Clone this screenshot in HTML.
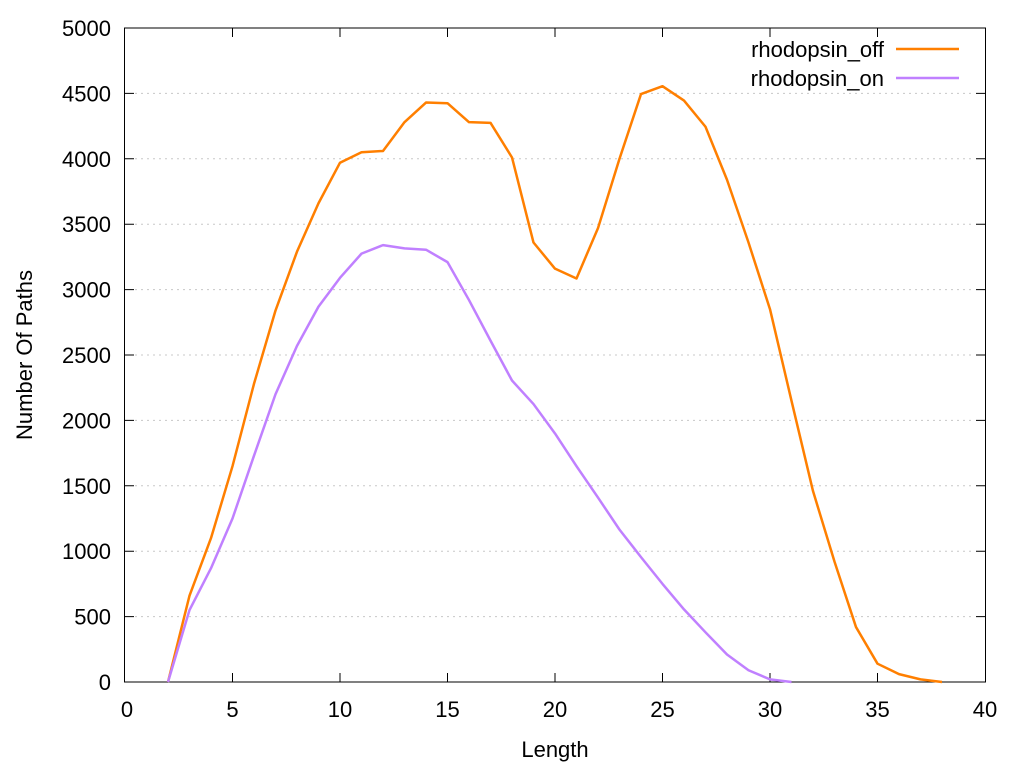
<!DOCTYPE html>
<html><head><style>
body{margin:0;background:#fff;}
svg text{font-family:"Liberation Sans",sans-serif;font-size:22px;fill:#000;}
</style></head><body>
<svg width="1024" height="768" xmlns="http://www.w3.org/2000/svg">
<rect width="1024" height="768" fill="#fff"/>
<g stroke="#c8c8c8" stroke-width="1" stroke-dasharray="2,4">
<line x1="135" x2="975" y1="616.6" y2="616.6"/>
<line x1="135" x2="975" y1="551.2" y2="551.2"/>
<line x1="135" x2="975" y1="485.8" y2="485.8"/>
<line x1="135" x2="975" y1="420.4" y2="420.4"/>
<line x1="135" x2="975" y1="355" y2="355"/>
<line x1="135" x2="975" y1="289.6" y2="289.6"/>
<line x1="135" x2="975" y1="224.2" y2="224.2"/>
<line x1="135" x2="975" y1="158.8" y2="158.8"/>
<line x1="135" x2="975" y1="93.4" y2="93.4"/>
</g>
<g stroke="#000" stroke-width="1">
<rect x="124.5" y="28" width="861" height="654" fill="none"/>
<path d="M125 616.6h9M125 551.2h9M125 485.8h9M125 420.4h9M125 355h9M125 289.6h9M125 224.2h9M125 158.8h9M125 93.4h9
M985 616.6h-9M985 551.2h-9M985 485.8h-9M985 420.4h-9M985 355h-9M985 289.6h-9M985 224.2h-9M985 158.8h-9M985 93.4h-9
M232.5 682v-9M340 682v-9M447.5 682v-9M555 682v-9M662.5 682v-9M770 682v-9M877.5 682v-9
M232.5 28v9M340 28v9M447.5 28v9M555 28v9M662.5 28v9M770 28v9M877.5 28v9"/>
</g>
<g text-anchor="end">
<text x="111" y="690">0</text><text x="111" y="624.6">500</text><text x="111" y="559.2">1000</text>
<text x="111" y="493.8">1500</text><text x="111" y="428.4">2000</text><text x="111" y="363">2500</text>
<text x="111" y="297.6">3000</text><text x="111" y="232.2">3500</text><text x="111" y="166.8">4000</text>
<text x="111" y="101.4">4500</text><text x="111" y="36">5000</text>
</g>
<g text-anchor="middle">
<text x="127" y="717">0</text><text x="232.5" y="717">5</text><text x="340" y="717">10</text>
<text x="447.5" y="717">15</text><text x="555" y="717">20</text><text x="662.5" y="717">25</text>
<text x="770" y="717">30</text><text x="877.5" y="717">35</text><text x="985" y="717">40</text>
<text x="555" y="757">Length</text>
<text transform="translate(32,355) rotate(-90)">Number Of Paths</text>
</g>
<g transform="translate(125,682) scale(21.5,-0.1308)" fill="none" stroke-width="2.5" stroke-linejoin="round">
<polyline vector-effect="non-scaling-stroke" stroke="#ff7f00" points="2,0 3,660 4,1100 5,1650 6,2280 7,2840 8,3290 9,3660 10,3970 11,4050 12,4060 13,4280 14,4430 15,4425 16,4280 17,4275 18,4010 19,3360 20,3160 21,3085 22,3470 23,4000 24,4495 25,4555 26,4445 27,4245 28,3840 29,3360 30,2850 31,2150 32,1460 33,920 34,420 35,140 36,60 37,20 38,0"/>
<polyline vector-effect="non-scaling-stroke" stroke="#c080ff" points="2,0 3,550 4,870 5,1250 6,1730 7,2200 8,2570 9,2870 10,3090 11,3275 12,3340 13,3315 14,3305 15,3210 16,2920 17,2610 18,2305 19,2125 20,1900 21,1650 22,1410 23,1165 24,955 25,750 26,555 27,380 28,210 29,90 30,20 31,0"/>
</g>
<g text-anchor="end">
<text x="884" y="57">rhodopsin_off</text>
<text x="884" y="86">rhodopsin_on</text>
</g>
<line x1="896" x2="959" y1="49" y2="49" stroke="#ff7f00" stroke-width="2.5"/>
<line x1="896" x2="959" y1="78" y2="78" stroke="#c080ff" stroke-width="2.5"/>
</svg>
</body></html>
